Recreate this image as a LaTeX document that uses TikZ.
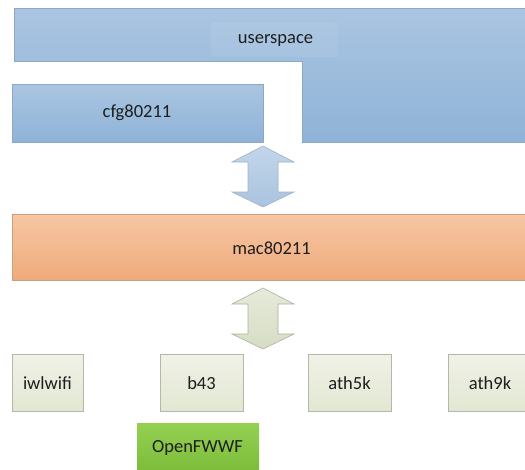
\documentclass[tikz,border=0pt]{standalone}
\usepackage{fontspec}
\setmainfont{Carlito}
\usetikzlibrary{calc}
\definecolor{usrtop}{HTML}{AAC5E1}
\definecolor{usrbot}{HTML}{8FB3D7}
\definecolor{usredge}{HTML}{8CA8C6}
\definecolor{mactop}{HTML}{F6C7A3}
\definecolor{macbot}{HTML}{EFAA7B}
\definecolor{macedge}{HTML}{C9A080}
\definecolor{drvtop}{HTML}{F0F2E6}
\definecolor{drvbot}{HTML}{E2E7D3}
\definecolor{drvedge}{HTML}{B4B8A8}
\definecolor{fwtop}{HTML}{94D052}
\definecolor{fwbot}{HTML}{7BBB38}
\definecolor{arrAtop}{HTML}{C3D6EA}
\definecolor{arrAbot}{HTML}{A9C3DF}
\definecolor{arrAedge}{HTML}{9EB2C8}
\definecolor{arrBtop}{HTML}{E6EADB}
\definecolor{arrBbot}{HTML}{D6DDC3}
\definecolor{arrBedge}{HTML}{ABB09E}
\definecolor{txt}{HTML}{1E1E1E}
\tikzset{
  lbl/.style={font=\fontsize{18.5}{20}\selectfont, text=txt, inner sep=0pt},
  drvbox/.style={top color=drvtop, bottom color=drvbot, draw=drvedge, line width=0.7pt},
  % vertical two-headed block arrow, anchored at its upper tip
  dblarrow/.pic={
    \path[pic actions] (0,0) -- (31,16) -- (15,16) -- (15,46) -- (31,46) -- (0,61)
      -- (-31,46) -- (-15,46) -- (-15,16) -- (-31,16) -- cycle;
  }
}
\begin{document}
\begin{tikzpicture}[x=1pt,y=-1pt]
\useasboundingbox (0,0) rectangle (525,469);

% userspace: L-shaped block
\shade[top color=usrtop, bottom color=usrbot]
  (14,8) -- (530,8) -- (530,142) -- (302,142) -- (302,61) -- (14,61) -- cycle;
\draw[usredge, line width=0.6pt]
  (530,8) -- (14,8) -- (14,61) -- (302,61) -- (302,142) -- (530,142);
\fill[white, opacity=0.07, rounded corners=3pt] (211,22) rectangle (338,57);
\node[lbl] (userspace) at (275.5,40) {userspace};

% cfg80211
\shade[top color=usrtop, bottom color=usrbot] (12,84) rectangle (263,142);
\draw[usredge, line width=0.6pt] (12,84) rectangle (263,142);
\node[lbl] (cfg) at (137,113) {cfg80211};

% mac80211
\shade[top color=mactop, bottom color=macbot] (12,214) rectangle (530,280);
\draw[macedge, line width=0.6pt] (530,214) -- (12,214) -- (12,280) -- (530,280);
\node[lbl] (mac) at (271.5,248.5) {mac80211};

% block arrows between the layers
\coordinate (upA) at (263,146);
\coordinate (upB) at (263,288);
\pic[top color=arrAtop, bottom color=arrAbot, draw=arrAedge, line width=0.6pt] at (upA) {dblarrow};
\pic[top color=arrBtop, bottom color=arrBbot, draw=arrBedge, line width=0.6pt] at (upB) {dblarrow};

% drivers
\path[drvbox] (12,354) rectangle (83,411);
\node[lbl] (iwl) at (47.5,383) {iwlwifi};
\path[drvbox] (160,354) rectangle (243,411);
\node[lbl] (b43) at (201.5,383) {b43};
\path[drvbox] (308,354) rectangle (391,411);
\node[lbl] (ath5k) at (349.5,383) {ath5k};
\path[drvbox] (448,354) rectangle (532,411);
\node[lbl] (ath9k) at (490,383) {ath9k};

% firmware
\shade[top color=fwtop, bottom color=fwbot] (137,423) rectangle (259,475);
\node[lbl] (fw) at (197.5,447.5) {OpenFWWF};
\end{tikzpicture}
\end{document}
